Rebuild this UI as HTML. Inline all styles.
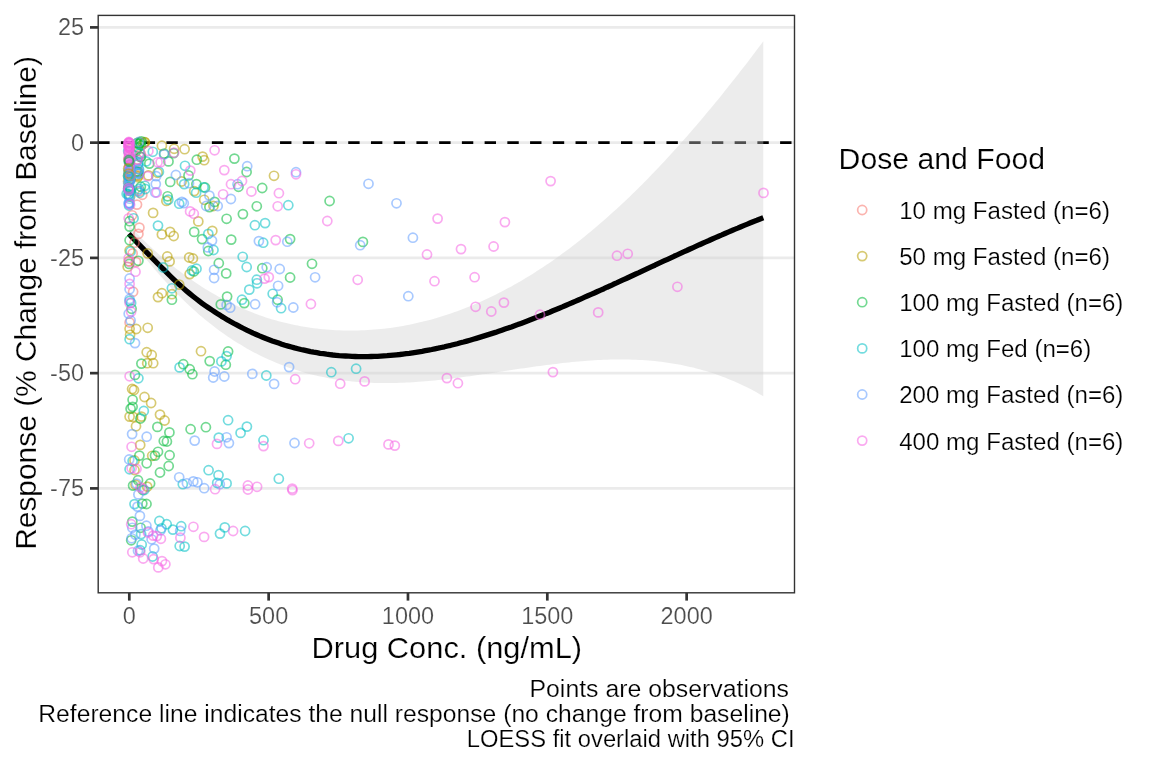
<!DOCTYPE html>
<html><head><meta charset="utf-8"><style>html,body{margin:0;padding:0;background:#fff;width:1152px;height:768px;overflow:hidden}</style></head><body>
<svg width="1152" height="768" viewBox="0 0 1152 768" style="display:block;will-change:transform">
<rect x="0" y="0" width="1152" height="768" fill="#FFFFFF"/>
<line x1="98.2" y1="27.4" x2="794.5" y2="27.4" stroke="#EBEBEB" stroke-width="2.7"/>
<line x1="98.2" y1="142.65" x2="794.5" y2="142.65" stroke="#EBEBEB" stroke-width="2.7"/>
<line x1="98.2" y1="257.9" x2="794.5" y2="257.9" stroke="#EBEBEB" stroke-width="2.7"/>
<line x1="98.2" y1="373.15" x2="794.5" y2="373.15" stroke="#EBEBEB" stroke-width="2.7"/>
<line x1="98.2" y1="488.4" x2="794.5" y2="488.4" stroke="#EBEBEB" stroke-width="2.7"/>
<line x1="98.2" y1="142.65" x2="794.5" y2="142.65" stroke="#000" stroke-width="2.9" stroke-dasharray="11.4 11.33"/>
<path d="M128.8,225.2 L132.0,228.5 L135.2,231.8 L138.4,235.0 L141.6,238.2 L144.7,241.3 L147.9,244.3 L151.1,247.3 L154.3,250.2 L157.5,253.0 L160.7,255.8 L163.9,258.5 L167.1,261.2 L170.2,263.8 L173.4,266.4 L176.6,268.9 L179.8,271.3 L183.0,273.7 L186.2,276.0 L189.4,278.3 L192.6,280.5 L195.8,282.7 L198.9,284.8 L202.1,286.9 L205.3,288.9 L208.5,290.8 L211.7,292.7 L214.9,294.6 L218.1,296.4 L221.3,298.1 L224.5,299.8 L227.6,301.4 L230.8,303.0 L234.0,304.6 L237.2,306.1 L240.4,307.5 L243.6,308.9 L246.8,310.3 L250.0,311.6 L253.1,312.8 L256.3,314.0 L259.5,315.2 L262.7,316.3 L265.9,317.4 L269.1,318.4 L272.3,319.4 L275.5,320.3 L278.7,321.2 L281.8,322.0 L285.0,322.8 L288.2,323.6 L291.4,324.3 L294.6,325.0 L297.8,325.6 L301.0,326.2 L304.2,326.8 L307.4,327.3 L310.5,327.8 L313.7,328.2 L316.9,328.6 L320.1,329.0 L323.3,329.3 L326.5,329.6 L329.7,329.8 L332.9,330.0 L336.0,330.2 L339.2,330.3 L342.4,330.4 L345.6,330.5 L348.8,330.5 L352.0,330.5 L355.2,330.5 L358.4,330.4 L361.6,330.3 L364.7,330.2 L367.9,330.0 L371.1,329.8 L374.3,329.6 L377.5,329.3 L380.7,329.0 L383.9,328.7 L387.1,328.3 L390.3,327.9 L393.4,327.4 L396.6,326.9 L399.8,326.4 L403.0,325.9 L406.2,325.3 L409.4,324.7 L412.6,324.0 L415.8,323.3 L418.9,322.6 L422.1,321.8 L425.3,321.0 L428.5,320.2 L431.7,319.4 L434.9,318.5 L438.1,317.5 L441.3,316.6 L444.5,315.6 L447.6,314.5 L450.8,313.4 L454.0,312.3 L457.2,311.2 L460.4,310.0 L463.6,308.8 L466.8,307.6 L470.0,306.3 L473.2,305.0 L476.3,303.6 L479.5,302.2 L482.7,300.8 L485.9,299.3 L489.1,297.8 L492.3,296.3 L495.5,294.7 L498.7,293.1 L501.8,291.5 L505.0,289.8 L508.2,288.1 L511.4,286.4 L514.6,284.6 L517.8,282.8 L521.0,280.9 L524.2,279.0 L527.4,277.1 L530.5,275.2 L533.7,273.2 L536.9,271.1 L540.1,269.1 L543.3,267.0 L546.5,264.8 L549.7,262.7 L552.9,260.4 L556.1,258.2 L559.2,255.9 L562.4,253.6 L565.6,251.3 L568.8,248.9 L572.0,246.4 L575.2,244.0 L578.4,241.5 L581.6,239.0 L584.7,236.4 L587.9,233.8 L591.1,231.2 L594.3,228.5 L597.5,225.8 L600.7,223.1 L603.9,220.3 L607.1,217.5 L610.3,214.6 L613.4,211.8 L616.6,208.9 L619.8,205.9 L623.0,202.9 L626.2,199.9 L629.4,196.9 L632.6,193.8 L635.8,190.7 L639.0,187.6 L642.1,184.4 L645.3,181.2 L648.5,177.9 L651.7,174.6 L654.9,171.3 L658.1,168.0 L661.3,164.6 L664.5,161.2 L667.6,157.8 L670.8,154.3 L674.0,150.8 L677.2,147.3 L680.4,143.7 L683.6,140.1 L686.8,136.5 L690.0,132.8 L693.2,129.1 L696.3,125.4 L699.5,121.7 L702.7,117.9 L705.9,114.1 L709.1,110.3 L712.3,106.4 L715.5,102.6 L718.7,98.7 L721.9,94.7 L725.0,90.8 L728.2,86.8 L731.4,82.8 L734.6,78.7 L737.8,74.7 L741.0,70.6 L744.2,66.5 L747.4,62.4 L750.5,58.2 L753.7,54.0 L756.9,49.8 L760.1,45.6 L763.3,41.3 L763.3,396.2 L760.1,394.4 L756.9,392.6 L753.7,390.8 L750.5,389.1 L747.4,387.5 L744.2,385.9 L741.0,384.4 L737.8,383.0 L734.6,381.6 L731.4,380.2 L728.2,378.9 L725.0,377.6 L721.9,376.4 L718.7,375.3 L715.5,374.1 L712.3,373.1 L709.1,372.1 L705.9,371.1 L702.7,370.2 L699.5,369.3 L696.3,368.4 L693.2,367.6 L690.0,366.9 L686.8,366.2 L683.6,365.5 L680.4,364.8 L677.2,364.3 L674.0,363.7 L670.8,363.2 L667.6,362.7 L664.5,362.3 L661.3,361.8 L658.1,361.5 L654.9,361.1 L651.7,360.8 L648.5,360.6 L645.3,360.3 L642.1,360.1 L639.0,359.9 L635.8,359.8 L632.6,359.7 L629.4,359.6 L626.2,359.5 L623.0,359.5 L619.8,359.5 L616.6,359.5 L613.4,359.6 L610.3,359.6 L607.1,359.7 L603.9,359.8 L600.7,360.0 L597.5,360.1 L594.3,360.3 L591.1,360.5 L587.9,360.7 L584.7,361.0 L581.6,361.2 L578.4,361.5 L575.2,361.8 L572.0,362.1 L568.8,362.4 L565.6,362.8 L562.4,363.1 L559.2,363.5 L556.1,363.9 L552.9,364.3 L549.7,364.7 L546.5,365.1 L543.3,365.5 L540.1,365.9 L536.9,366.3 L533.7,366.8 L530.5,367.2 L527.4,367.7 L524.2,368.2 L521.0,368.6 L517.8,369.1 L514.6,369.6 L511.4,370.1 L508.2,370.5 L505.0,371.0 L501.8,371.5 L498.7,372.0 L495.5,372.5 L492.3,372.9 L489.1,373.4 L485.9,373.9 L482.7,374.3 L479.5,374.8 L476.3,375.3 L473.2,375.7 L470.0,376.2 L466.8,376.6 L463.6,377.0 L460.4,377.5 L457.2,377.9 L454.0,378.3 L450.8,378.7 L447.6,379.0 L444.5,379.4 L441.3,379.8 L438.1,380.1 L434.9,380.4 L431.7,380.7 L428.5,381.0 L425.3,381.3 L422.1,381.6 L418.9,381.8 L415.8,382.0 L412.6,382.2 L409.4,382.4 L406.2,382.6 L403.0,382.7 L399.8,382.8 L396.6,382.9 L393.4,383.0 L390.3,383.0 L387.1,383.1 L383.9,383.1 L380.7,383.0 L377.5,383.0 L374.3,382.9 L371.1,382.8 L367.9,382.6 L364.7,382.5 L361.6,382.3 L358.4,382.0 L355.2,381.8 L352.0,381.5 L348.8,381.1 L345.6,380.7 L342.4,380.3 L339.2,379.9 L336.0,379.4 L332.9,378.9 L329.7,378.4 L326.5,377.8 L323.3,377.1 L320.1,376.5 L316.9,375.8 L313.7,375.0 L310.5,374.2 L307.4,373.4 L304.2,372.5 L301.0,371.6 L297.8,370.6 L294.6,369.6 L291.4,368.5 L288.2,367.4 L285.0,366.3 L281.8,365.1 L278.7,363.8 L275.5,362.5 L272.3,361.1 L269.1,359.7 L265.9,358.3 L262.7,356.8 L259.5,355.2 L256.3,353.6 L253.1,351.9 L250.0,350.2 L246.8,348.4 L243.6,346.5 L240.4,344.6 L237.2,342.7 L234.0,340.7 L230.8,338.6 L227.6,336.5 L224.5,334.3 L221.3,332.0 L218.1,329.7 L214.9,327.3 L211.7,324.8 L208.5,322.3 L205.3,319.7 L202.1,317.1 L198.9,314.4 L195.8,311.6 L192.6,308.7 L189.4,305.8 L186.2,302.8 L183.0,299.7 L179.8,296.6 L176.6,293.4 L173.4,290.1 L170.2,286.8 L167.1,283.3 L163.9,279.8 L160.7,276.3 L157.5,272.6 L154.3,268.9 L151.1,265.1 L147.9,261.2 L144.7,257.2 L141.6,253.2 L138.4,249.1 L135.2,244.9 L132.0,240.6 L128.8,236.2 Z" fill="rgb(205,205,205)" fill-opacity="0.39"/>
<path d="M128.8,233.8 L132.0,237.2 L135.2,240.5 L138.4,243.8 L141.6,247.1 L144.7,250.4 L147.9,253.6 L151.1,256.9 L154.3,260.1 L157.5,263.3 L160.7,266.5 L163.9,269.7 L167.1,272.9 L170.2,276.0 L173.4,279.1 L176.6,282.1 L179.8,285.0 L183.0,287.9 L186.2,290.7 L189.4,293.4 L192.6,296.0 L195.8,298.5 L198.9,300.9 L202.1,303.3 L205.3,305.6 L208.5,307.8 L211.7,309.9 L214.9,312.0 L218.1,314.1 L221.3,316.1 L224.5,318.0 L227.6,319.9 L230.8,321.7 L234.0,323.5 L237.2,325.2 L240.4,326.9 L243.6,328.5 L246.8,330.1 L250.0,331.6 L253.1,333.1 L256.3,334.5 L259.5,335.9 L262.7,337.2 L265.9,338.5 L269.1,339.7 L272.3,340.9 L275.5,342.0 L278.7,343.1 L281.8,344.2 L285.0,345.2 L288.2,346.1 L291.4,347.0 L294.6,347.9 L297.8,348.7 L301.0,349.5 L304.2,350.2 L307.4,350.9 L310.5,351.6 L313.7,352.2 L316.9,352.7 L320.1,353.3 L323.3,353.7 L326.5,354.2 L329.7,354.6 L332.9,355.0 L336.0,355.3 L339.2,355.6 L342.4,355.8 L345.6,356.0 L348.8,356.2 L352.0,356.4 L355.2,356.5 L358.4,356.6 L361.6,356.6 L364.7,356.6 L367.9,356.6 L371.1,356.5 L374.3,356.4 L377.5,356.3 L380.7,356.1 L383.9,355.9 L387.1,355.7 L390.3,355.4 L393.4,355.1 L396.6,354.8 L399.8,354.5 L403.0,354.1 L406.2,353.7 L409.4,353.3 L412.6,352.8 L415.8,352.3 L418.9,351.8 L422.1,351.3 L425.3,350.7 L428.5,350.1 L431.7,349.5 L434.9,348.8 L438.1,348.2 L441.3,347.5 L444.5,346.8 L447.6,346.0 L450.8,345.3 L454.0,344.5 L457.2,343.7 L460.4,342.8 L463.6,342.0 L466.8,341.1 L470.0,340.2 L473.2,339.3 L476.3,338.4 L479.5,337.4 L482.7,336.4 L485.9,335.4 L489.1,334.4 L492.3,333.4 L495.5,332.4 L498.7,331.3 L501.8,330.2 L505.0,329.1 L508.2,328.0 L511.4,326.9 L514.6,325.7 L517.8,324.6 L521.0,323.4 L524.2,322.2 L527.4,321.0 L530.5,319.8 L533.7,318.5 L536.9,317.3 L540.1,316.0 L543.3,314.7 L546.5,313.4 L549.7,312.2 L552.9,310.8 L556.1,309.5 L559.2,308.2 L562.4,306.9 L565.6,305.5 L568.8,304.1 L572.0,302.8 L575.2,301.4 L578.4,300.0 L581.6,298.6 L584.7,297.2 L587.9,295.8 L591.1,294.4 L594.3,293.0 L597.5,291.5 L600.7,290.1 L603.9,288.7 L607.1,287.2 L610.3,285.8 L613.4,284.3 L616.6,282.9 L619.8,281.4 L623.0,279.9 L626.2,278.5 L629.4,277.0 L632.6,275.5 L635.8,274.0 L639.0,272.6 L642.1,271.1 L645.3,269.6 L648.5,268.1 L651.7,266.6 L654.9,265.2 L658.1,263.7 L661.3,262.2 L664.5,260.7 L667.6,259.3 L670.8,257.8 L674.0,256.3 L677.2,254.9 L680.4,253.4 L683.6,251.9 L686.8,250.5 L690.0,249.0 L693.2,247.6 L696.3,246.2 L699.5,244.7 L702.7,243.3 L705.9,241.9 L709.1,240.5 L712.3,239.0 L715.5,237.6 L718.7,236.2 L721.9,234.9 L725.0,233.5 L728.2,232.1 L731.4,230.8 L734.6,229.4 L737.8,228.1 L741.0,226.7 L744.2,225.4 L747.4,224.1 L750.5,222.8 L753.7,221.5 L756.9,220.3 L760.1,219.0 L763.3,217.8" fill="none" stroke="#000" stroke-width="5.3" stroke-linejoin="round"/>
<g fill="none" stroke-width="1.7" stroke-opacity="0.55">
<circle cx="139.7" cy="191.1" r="4.55" stroke="#F8766D"/>
<circle cx="137.0" cy="204.6" r="4.55" stroke="#F8766D"/>
<circle cx="142.3" cy="194.8" r="4.55" stroke="#F8766D"/>
<circle cx="132.1" cy="215.3" r="4.55" stroke="#F8766D"/>
<circle cx="139.4" cy="227.6" r="4.55" stroke="#F8766D"/>
<circle cx="138.4" cy="233.9" r="4.55" stroke="#F8766D"/>
<circle cx="134.5" cy="242.7" r="4.55" stroke="#F8766D"/>
<circle cx="132.6" cy="253.4" r="4.55" stroke="#F8766D"/>
<circle cx="136.0" cy="261.9" r="4.55" stroke="#F8766D"/>
<circle cx="133.1" cy="291.7" r="4.55" stroke="#F8766D"/>
<circle cx="129.6" cy="322.5" r="4.55" stroke="#F8766D"/>
<circle cx="129.4" cy="158.8" r="4.55" stroke="#F8766D"/>
<circle cx="128.2" cy="188.4" r="4.55" stroke="#F8766D"/>
<circle cx="130.4" cy="148.6" r="4.55" stroke="#F8766D"/>
<circle cx="129.9" cy="165.3" r="4.55" stroke="#F8766D"/>
<circle cx="128.4" cy="159.3" r="4.55" stroke="#F8766D"/>
<circle cx="129.8" cy="189.4" r="4.55" stroke="#F8766D"/>
<circle cx="136.3" cy="175.5" r="4.55" stroke="#F8766D"/>
<circle cx="140.8" cy="153.8" r="4.55" stroke="#F8766D"/>
<circle cx="138.3" cy="171.2" r="4.55" stroke="#F8766D"/>
<circle cx="137.6" cy="159.6" r="4.55" stroke="#F8766D"/>
<circle cx="202.6" cy="156.6" r="4.55" stroke="#B79F00"/>
<circle cx="204.2" cy="160.2" r="4.55" stroke="#B79F00"/>
<circle cx="274.0" cy="175.8" r="4.55" stroke="#B79F00"/>
<circle cx="204.2" cy="199.8" r="4.55" stroke="#B79F00"/>
<circle cx="213.5" cy="206.0" r="4.55" stroke="#B79F00"/>
<circle cx="212.3" cy="230.9" r="4.55" stroke="#B79F00"/>
<circle cx="201.0" cy="351.2" r="4.55" stroke="#B79F00"/>
<circle cx="161.9" cy="145.7" r="4.55" stroke="#B79F00"/>
<circle cx="174.1" cy="148.8" r="4.55" stroke="#B79F00"/>
<circle cx="184.6" cy="149.2" r="4.55" stroke="#B79F00"/>
<circle cx="144.9" cy="142.2" r="4.55" stroke="#B79F00"/>
<circle cx="157.6" cy="172.8" r="4.55" stroke="#B79F00"/>
<circle cx="148.4" cy="175.4" r="4.55" stroke="#B79F00"/>
<circle cx="181.6" cy="181.5" r="4.55" stroke="#B79F00"/>
<circle cx="194.2" cy="191.1" r="4.55" stroke="#B79F00"/>
<circle cx="153.1" cy="212.9" r="4.55" stroke="#B79F00"/>
<circle cx="161.9" cy="234.4" r="4.55" stroke="#B79F00"/>
<circle cx="147.7" cy="253.4" r="4.55" stroke="#B79F00"/>
<circle cx="129.6" cy="250.5" r="4.55" stroke="#B79F00"/>
<circle cx="128.7" cy="261.2" r="4.55" stroke="#B79F00"/>
<circle cx="127.7" cy="266.8" r="4.55" stroke="#B79F00"/>
<circle cx="129.6" cy="328.8" r="4.55" stroke="#B79F00"/>
<circle cx="136.2" cy="329.0" r="4.55" stroke="#B79F00"/>
<circle cx="147.7" cy="327.8" r="4.55" stroke="#B79F00"/>
<circle cx="158.0" cy="297.1" r="4.55" stroke="#B79F00"/>
<circle cx="161.9" cy="293.2" r="4.55" stroke="#B79F00"/>
<circle cx="130.1" cy="334.8" r="4.55" stroke="#B79F00"/>
<circle cx="146.7" cy="352.2" r="4.55" stroke="#B79F00"/>
<circle cx="151.7" cy="355.0" r="4.55" stroke="#B79F00"/>
<circle cx="147.2" cy="363.2" r="4.55" stroke="#B79F00"/>
<circle cx="153.2" cy="363.2" r="4.55" stroke="#B79F00"/>
<circle cx="132.1" cy="389.0" r="4.55" stroke="#B79F00"/>
<circle cx="134.0" cy="390.0" r="4.55" stroke="#B79F00"/>
<circle cx="144.5" cy="397.0" r="4.55" stroke="#B79F00"/>
<circle cx="151.1" cy="403.0" r="4.55" stroke="#B79F00"/>
<circle cx="129.6" cy="416.6" r="4.55" stroke="#B79F00"/>
<circle cx="133.1" cy="417.0" r="4.55" stroke="#B79F00"/>
<circle cx="141.4" cy="416.6" r="4.55" stroke="#B79F00"/>
<circle cx="136.0" cy="426.3" r="4.55" stroke="#B79F00"/>
<circle cx="160.0" cy="414.6" r="4.55" stroke="#B79F00"/>
<circle cx="164.6" cy="420.5" r="4.55" stroke="#B79F00"/>
<circle cx="140.2" cy="444.9" r="4.55" stroke="#B79F00"/>
<circle cx="134.5" cy="460.5" r="4.55" stroke="#B79F00"/>
<circle cx="152.2" cy="455.8" r="4.55" stroke="#B79F00"/>
<circle cx="134.5" cy="470.0" r="4.55" stroke="#B79F00"/>
<circle cx="135.5" cy="484.6" r="4.55" stroke="#B79F00"/>
<circle cx="147.2" cy="486.6" r="4.55" stroke="#B79F00"/>
<circle cx="166.4" cy="200.9" r="4.55" stroke="#B79F00"/>
<circle cx="198.3" cy="221.4" r="4.55" stroke="#B79F00"/>
<circle cx="170.1" cy="231.9" r="4.55" stroke="#B79F00"/>
<circle cx="173.7" cy="236.0" r="4.55" stroke="#B79F00"/>
<circle cx="167.3" cy="256.5" r="4.55" stroke="#B79F00"/>
<circle cx="189.2" cy="257.5" r="4.55" stroke="#B79F00"/>
<circle cx="192.9" cy="258.5" r="4.55" stroke="#B79F00"/>
<circle cx="169.6" cy="261.4" r="4.55" stroke="#B79F00"/>
<circle cx="189.7" cy="274.1" r="4.55" stroke="#B79F00"/>
<circle cx="179.2" cy="284.6" r="4.55" stroke="#B79F00"/>
<circle cx="171.9" cy="294.2" r="4.55" stroke="#B79F00"/>
<circle cx="128.1" cy="176.0" r="4.55" stroke="#B79F00"/>
<circle cx="128.1" cy="181.4" r="4.55" stroke="#B79F00"/>
<circle cx="128.8" cy="189.8" r="4.55" stroke="#B79F00"/>
<circle cx="130.4" cy="170.3" r="4.55" stroke="#B79F00"/>
<circle cx="138.3" cy="175.6" r="4.55" stroke="#B79F00"/>
<circle cx="137.8" cy="177.1" r="4.55" stroke="#B79F00"/>
<circle cx="139.7" cy="142.1" r="4.55" stroke="#B79F00"/>
<circle cx="143.4" cy="143.6" r="4.55" stroke="#B79F00"/>
<circle cx="144.7" cy="142.4" r="4.55" stroke="#B79F00"/>
<circle cx="130.2" cy="196.3" r="4.55" stroke="#B79F00"/>
<circle cx="329.6" cy="201.0" r="4.55" stroke="#00BA38"/>
<circle cx="362.9" cy="241.9" r="4.55" stroke="#00BA38"/>
<circle cx="234.4" cy="158.6" r="4.55" stroke="#00BA38"/>
<circle cx="246.6" cy="172.0" r="4.55" stroke="#00BA38"/>
<circle cx="238.5" cy="186.8" r="4.55" stroke="#00BA38"/>
<circle cx="262.2" cy="188.0" r="4.55" stroke="#00BA38"/>
<circle cx="205.0" cy="187.5" r="4.55" stroke="#00BA38"/>
<circle cx="214.6" cy="201.9" r="4.55" stroke="#00BA38"/>
<circle cx="209.4" cy="207.1" r="4.55" stroke="#00BA38"/>
<circle cx="256.8" cy="206.3" r="4.55" stroke="#00BA38"/>
<circle cx="242.9" cy="214.1" r="4.55" stroke="#00BA38"/>
<circle cx="226.6" cy="218.8" r="4.55" stroke="#00BA38"/>
<circle cx="202.1" cy="239.1" r="4.55" stroke="#00BA38"/>
<circle cx="231.2" cy="239.6" r="4.55" stroke="#00BA38"/>
<circle cx="290.1" cy="239.1" r="4.55" stroke="#00BA38"/>
<circle cx="208.3" cy="251.0" r="4.55" stroke="#00BA38"/>
<circle cx="218.8" cy="263.2" r="4.55" stroke="#00BA38"/>
<circle cx="226.2" cy="273.4" r="4.55" stroke="#00BA38"/>
<circle cx="262.3" cy="268.2" r="4.55" stroke="#00BA38"/>
<circle cx="290.1" cy="277.5" r="4.55" stroke="#00BA38"/>
<circle cx="312.0" cy="263.8" r="4.55" stroke="#00BA38"/>
<circle cx="227.1" cy="296.6" r="4.55" stroke="#00BA38"/>
<circle cx="220.8" cy="304.4" r="4.55" stroke="#00BA38"/>
<circle cx="244.3" cy="303.1" r="4.55" stroke="#00BA38"/>
<circle cx="277.6" cy="299.7" r="4.55" stroke="#00BA38"/>
<circle cx="228.1" cy="351.5" r="4.55" stroke="#00BA38"/>
<circle cx="209.7" cy="361.1" r="4.55" stroke="#00BA38"/>
<circle cx="225.8" cy="364.7" r="4.55" stroke="#00BA38"/>
<circle cx="205.9" cy="427.2" r="4.55" stroke="#00BA38"/>
<circle cx="132.3" cy="521.6" r="4.55" stroke="#00BA38"/>
<circle cx="140.6" cy="527.8" r="4.55" stroke="#00BA38"/>
<circle cx="131.2" cy="540.3" r="4.55" stroke="#00BA38"/>
<circle cx="141.4" cy="141.3" r="4.55" stroke="#00BA38"/>
<circle cx="137.9" cy="147.5" r="4.55" stroke="#00BA38"/>
<circle cx="164.1" cy="153.6" r="4.55" stroke="#00BA38"/>
<circle cx="173.7" cy="153.1" r="4.55" stroke="#00BA38"/>
<circle cx="168.5" cy="161.4" r="4.55" stroke="#00BA38"/>
<circle cx="149.3" cy="163.6" r="4.55" stroke="#00BA38"/>
<circle cx="196.8" cy="159.7" r="4.55" stroke="#00BA38"/>
<circle cx="188.5" cy="175.4" r="4.55" stroke="#00BA38"/>
<circle cx="170.2" cy="181.9" r="4.55" stroke="#00BA38"/>
<circle cx="196.4" cy="184.1" r="4.55" stroke="#00BA38"/>
<circle cx="167.6" cy="196.3" r="4.55" stroke="#00BA38"/>
<circle cx="129.6" cy="221.2" r="4.55" stroke="#00BA38"/>
<circle cx="129.6" cy="226.6" r="4.55" stroke="#00BA38"/>
<circle cx="129.6" cy="240.2" r="4.55" stroke="#00BA38"/>
<circle cx="138.4" cy="260.8" r="4.55" stroke="#00BA38"/>
<circle cx="129.2" cy="263.9" r="4.55" stroke="#00BA38"/>
<circle cx="131.6" cy="308.8" r="4.55" stroke="#00BA38"/>
<circle cx="141.4" cy="363.6" r="4.55" stroke="#00BA38"/>
<circle cx="135.0" cy="374.9" r="4.55" stroke="#00BA38"/>
<circle cx="132.6" cy="399.8" r="4.55" stroke="#00BA38"/>
<circle cx="130.6" cy="408.7" r="4.55" stroke="#00BA38"/>
<circle cx="132.6" cy="406.8" r="4.55" stroke="#00BA38"/>
<circle cx="140.4" cy="418.5" r="4.55" stroke="#00BA38"/>
<circle cx="157.4" cy="426.9" r="4.55" stroke="#00BA38"/>
<circle cx="139.4" cy="455.6" r="4.55" stroke="#00BA38"/>
<circle cx="146.7" cy="463.3" r="4.55" stroke="#00BA38"/>
<circle cx="155.0" cy="455.6" r="4.55" stroke="#00BA38"/>
<circle cx="158.0" cy="451.8" r="4.55" stroke="#00BA38"/>
<circle cx="163.8" cy="441.0" r="4.55" stroke="#00BA38"/>
<circle cx="160.0" cy="472.5" r="4.55" stroke="#00BA38"/>
<circle cx="133.1" cy="485.6" r="4.55" stroke="#00BA38"/>
<circle cx="138.0" cy="480.2" r="4.55" stroke="#00BA38"/>
<circle cx="142.8" cy="490.0" r="4.55" stroke="#00BA38"/>
<circle cx="150.1" cy="483.5" r="4.55" stroke="#00BA38"/>
<circle cx="142.3" cy="503.6" r="4.55" stroke="#00BA38"/>
<circle cx="146.5" cy="504.0" r="4.55" stroke="#00BA38"/>
<circle cx="194.2" cy="231.9" r="4.55" stroke="#00BA38"/>
<circle cx="193.8" cy="271.4" r="4.55" stroke="#00BA38"/>
<circle cx="171.9" cy="299.7" r="4.55" stroke="#00BA38"/>
<circle cx="183.3" cy="364.2" r="4.55" stroke="#00BA38"/>
<circle cx="189.7" cy="369.2" r="4.55" stroke="#00BA38"/>
<circle cx="192.4" cy="374.2" r="4.55" stroke="#00BA38"/>
<circle cx="169.4" cy="432.4" r="4.55" stroke="#00BA38"/>
<circle cx="166.9" cy="441.5" r="4.55" stroke="#00BA38"/>
<circle cx="190.6" cy="429.2" r="4.55" stroke="#00BA38"/>
<circle cx="169.6" cy="455.2" r="4.55" stroke="#00BA38"/>
<circle cx="168.7" cy="466.0" r="4.55" stroke="#00BA38"/>
<circle cx="130.2" cy="188.5" r="4.55" stroke="#00BA38"/>
<circle cx="130.4" cy="178.9" r="4.55" stroke="#00BA38"/>
<circle cx="128.4" cy="188.8" r="4.55" stroke="#00BA38"/>
<circle cx="130.3" cy="191.0" r="4.55" stroke="#00BA38"/>
<circle cx="129.4" cy="181.1" r="4.55" stroke="#00BA38"/>
<circle cx="128.5" cy="187.2" r="4.55" stroke="#00BA38"/>
<circle cx="141.0" cy="156.8" r="4.55" stroke="#00BA38"/>
<circle cx="136.4" cy="171.6" r="4.55" stroke="#00BA38"/>
<circle cx="136.2" cy="151.1" r="4.55" stroke="#00BA38"/>
<circle cx="138.0" cy="172.1" r="4.55" stroke="#00BA38"/>
<circle cx="136.8" cy="143.2" r="4.55" stroke="#00BA38"/>
<circle cx="140.3" cy="157.0" r="4.55" stroke="#00BA38"/>
<circle cx="140.8" cy="186.7" r="4.55" stroke="#00BA38"/>
<circle cx="141.1" cy="145.5" r="4.55" stroke="#00BA38"/>
<circle cx="140.3" cy="142.9" r="4.55" stroke="#00BA38"/>
<circle cx="139.0" cy="144.1" r="4.55" stroke="#00BA38"/>
<circle cx="266.3" cy="375.5" r="4.55" stroke="#00BFC4"/>
<circle cx="331.3" cy="372.2" r="4.55" stroke="#00BFC4"/>
<circle cx="356.1" cy="368.7" r="4.55" stroke="#00BFC4"/>
<circle cx="281.1" cy="308.2" r="4.55" stroke="#00BFC4"/>
<circle cx="246.9" cy="426.6" r="4.55" stroke="#00BFC4"/>
<circle cx="240.6" cy="432.9" r="4.55" stroke="#00BFC4"/>
<circle cx="263.5" cy="440.2" r="4.55" stroke="#00BFC4"/>
<circle cx="348.6" cy="438.3" r="4.55" stroke="#00BFC4"/>
<circle cx="278.8" cy="478.7" r="4.55" stroke="#00BFC4"/>
<circle cx="203.6" cy="187.3" r="4.55" stroke="#00BFC4"/>
<circle cx="288.3" cy="205.2" r="4.55" stroke="#00BFC4"/>
<circle cx="254.9" cy="225.2" r="4.55" stroke="#00BFC4"/>
<circle cx="265.1" cy="223.1" r="4.55" stroke="#00BFC4"/>
<circle cx="208.3" cy="233.9" r="4.55" stroke="#00BFC4"/>
<circle cx="263.2" cy="242.7" r="4.55" stroke="#00BFC4"/>
<circle cx="213.5" cy="250.0" r="4.55" stroke="#00BFC4"/>
<circle cx="242.7" cy="256.8" r="4.55" stroke="#00BFC4"/>
<circle cx="246.7" cy="267.0" r="4.55" stroke="#00BFC4"/>
<circle cx="256.8" cy="279.7" r="4.55" stroke="#00BFC4"/>
<circle cx="257.1" cy="283.3" r="4.55" stroke="#00BFC4"/>
<circle cx="249.3" cy="289.6" r="4.55" stroke="#00BFC4"/>
<circle cx="242.0" cy="299.7" r="4.55" stroke="#00BFC4"/>
<circle cx="272.7" cy="293.8" r="4.55" stroke="#00BFC4"/>
<circle cx="226.6" cy="356.1" r="4.55" stroke="#00BFC4"/>
<circle cx="221.4" cy="361.4" r="4.55" stroke="#00BFC4"/>
<circle cx="228.1" cy="420.2" r="4.55" stroke="#00BFC4"/>
<circle cx="218.8" cy="437.6" r="4.55" stroke="#00BFC4"/>
<circle cx="208.6" cy="470.2" r="4.55" stroke="#00BFC4"/>
<circle cx="218.5" cy="475.1" r="4.55" stroke="#00BFC4"/>
<circle cx="217.2" cy="482.9" r="4.55" stroke="#00BFC4"/>
<circle cx="226.6" cy="483.4" r="4.55" stroke="#00BFC4"/>
<circle cx="224.8" cy="527.4" r="4.55" stroke="#00BFC4"/>
<circle cx="220.0" cy="533.6" r="4.55" stroke="#00BFC4"/>
<circle cx="245.1" cy="531.0" r="4.55" stroke="#00BFC4"/>
<circle cx="159.4" cy="521.0" r="4.55" stroke="#00BFC4"/>
<circle cx="166.7" cy="524.2" r="4.55" stroke="#00BFC4"/>
<circle cx="161.5" cy="528.3" r="4.55" stroke="#00BFC4"/>
<circle cx="172.9" cy="529.6" r="4.55" stroke="#00BFC4"/>
<circle cx="181.2" cy="526.2" r="4.55" stroke="#00BFC4"/>
<circle cx="179.7" cy="546.0" r="4.55" stroke="#00BFC4"/>
<circle cx="184.6" cy="546.6" r="4.55" stroke="#00BFC4"/>
<circle cx="141.1" cy="534.1" r="4.55" stroke="#00BFC4"/>
<circle cx="141.7" cy="544.5" r="4.55" stroke="#00BFC4"/>
<circle cx="140.1" cy="550.2" r="4.55" stroke="#00BFC4"/>
<circle cx="152.6" cy="556.5" r="4.55" stroke="#00BFC4"/>
<circle cx="152.8" cy="151.8" r="4.55" stroke="#00BFC4"/>
<circle cx="146.2" cy="161.4" r="4.55" stroke="#00BFC4"/>
<circle cx="185.0" cy="165.8" r="4.55" stroke="#00BFC4"/>
<circle cx="158.9" cy="171.9" r="4.55" stroke="#00BFC4"/>
<circle cx="184.2" cy="184.1" r="4.55" stroke="#00BFC4"/>
<circle cx="144.9" cy="185.8" r="4.55" stroke="#00BFC4"/>
<circle cx="139.7" cy="192.8" r="4.55" stroke="#00BFC4"/>
<circle cx="145.3" cy="189.0" r="4.55" stroke="#00BFC4"/>
<circle cx="158.0" cy="225.6" r="4.55" stroke="#00BFC4"/>
<circle cx="133.6" cy="218.3" r="4.55" stroke="#00BFC4"/>
<circle cx="130.6" cy="251.5" r="4.55" stroke="#00BFC4"/>
<circle cx="126.7" cy="193.9" r="4.55" stroke="#00BFC4"/>
<circle cx="131.1" cy="302.9" r="4.55" stroke="#00BFC4"/>
<circle cx="129.6" cy="301.0" r="4.55" stroke="#00BFC4"/>
<circle cx="163.2" cy="267.5" r="4.55" stroke="#00BFC4"/>
<circle cx="129.6" cy="339.2" r="4.55" stroke="#00BFC4"/>
<circle cx="138.4" cy="378.3" r="4.55" stroke="#00BFC4"/>
<circle cx="143.8" cy="411.0" r="4.55" stroke="#00BFC4"/>
<circle cx="132.6" cy="461.0" r="4.55" stroke="#00BFC4"/>
<circle cx="129.6" cy="469.3" r="4.55" stroke="#00BFC4"/>
<circle cx="144.3" cy="490.0" r="4.55" stroke="#00BFC4"/>
<circle cx="134.5" cy="504.1" r="4.55" stroke="#00BFC4"/>
<circle cx="168.3" cy="199.6" r="4.55" stroke="#00BFC4"/>
<circle cx="179.2" cy="203.7" r="4.55" stroke="#00BFC4"/>
<circle cx="196.1" cy="192.7" r="4.55" stroke="#00BFC4"/>
<circle cx="192.0" cy="270.5" r="4.55" stroke="#00BFC4"/>
<circle cx="196.5" cy="268.7" r="4.55" stroke="#00BFC4"/>
<circle cx="171.9" cy="288.3" r="4.55" stroke="#00BFC4"/>
<circle cx="179.6" cy="367.4" r="4.55" stroke="#00BFC4"/>
<circle cx="182.8" cy="484.2" r="4.55" stroke="#00BFC4"/>
<circle cx="130.2" cy="189.7" r="4.55" stroke="#00BFC4"/>
<circle cx="128.2" cy="151.1" r="4.55" stroke="#00BFC4"/>
<circle cx="128.5" cy="194.2" r="4.55" stroke="#00BFC4"/>
<circle cx="129.0" cy="176.6" r="4.55" stroke="#00BFC4"/>
<circle cx="128.7" cy="170.4" r="4.55" stroke="#00BFC4"/>
<circle cx="128.9" cy="162.2" r="4.55" stroke="#00BFC4"/>
<circle cx="129.4" cy="174.4" r="4.55" stroke="#00BFC4"/>
<circle cx="130.2" cy="179.5" r="4.55" stroke="#00BFC4"/>
<circle cx="137.9" cy="164.5" r="4.55" stroke="#00BFC4"/>
<circle cx="138.6" cy="173.8" r="4.55" stroke="#00BFC4"/>
<circle cx="139.0" cy="169.5" r="4.55" stroke="#00BFC4"/>
<circle cx="139.1" cy="189.0" r="4.55" stroke="#00BFC4"/>
<circle cx="138.5" cy="163.0" r="4.55" stroke="#00BFC4"/>
<circle cx="139.6" cy="153.1" r="4.55" stroke="#00BFC4"/>
<circle cx="128.7" cy="194.6" r="4.55" stroke="#00BFC4"/>
<circle cx="129.0" cy="196.0" r="4.55" stroke="#00BFC4"/>
<circle cx="129.0" cy="205.5" r="4.55" stroke="#00BFC4"/>
<circle cx="252.3" cy="373.9" r="4.55" stroke="#619CFF"/>
<circle cx="274.1" cy="383.9" r="4.55" stroke="#619CFF"/>
<circle cx="289.1" cy="367.1" r="4.55" stroke="#619CFF"/>
<circle cx="293.3" cy="307.5" r="4.55" stroke="#619CFF"/>
<circle cx="255.1" cy="304.2" r="4.55" stroke="#619CFF"/>
<circle cx="294.5" cy="443.0" r="4.55" stroke="#619CFF"/>
<circle cx="368.5" cy="183.8" r="4.55" stroke="#619CFF"/>
<circle cx="396.5" cy="203.3" r="4.55" stroke="#619CFF"/>
<circle cx="360.2" cy="245.2" r="4.55" stroke="#619CFF"/>
<circle cx="412.9" cy="237.7" r="4.55" stroke="#619CFF"/>
<circle cx="408.3" cy="296.2" r="4.55" stroke="#619CFF"/>
<circle cx="247.2" cy="166.2" r="4.55" stroke="#619CFF"/>
<circle cx="296.0" cy="172.2" r="4.55" stroke="#619CFF"/>
<circle cx="237.5" cy="184.2" r="4.55" stroke="#619CFF"/>
<circle cx="230.9" cy="199.0" r="4.55" stroke="#619CFF"/>
<circle cx="209.4" cy="195.6" r="4.55" stroke="#619CFF"/>
<circle cx="217.7" cy="206.0" r="4.55" stroke="#619CFF"/>
<circle cx="206.2" cy="206.0" r="4.55" stroke="#619CFF"/>
<circle cx="212.0" cy="240.6" r="4.55" stroke="#619CFF"/>
<circle cx="258.9" cy="241.1" r="4.55" stroke="#619CFF"/>
<circle cx="287.3" cy="241.7" r="4.55" stroke="#619CFF"/>
<circle cx="207.8" cy="247.4" r="4.55" stroke="#619CFF"/>
<circle cx="214.1" cy="269.8" r="4.55" stroke="#619CFF"/>
<circle cx="214.1" cy="278.0" r="4.55" stroke="#619CFF"/>
<circle cx="266.7" cy="267.2" r="4.55" stroke="#619CFF"/>
<circle cx="279.7" cy="269.0" r="4.55" stroke="#619CFF"/>
<circle cx="315.1" cy="277.3" r="4.55" stroke="#619CFF"/>
<circle cx="278.1" cy="285.8" r="4.55" stroke="#619CFF"/>
<circle cx="226.6" cy="304.9" r="4.55" stroke="#619CFF"/>
<circle cx="230.2" cy="307.7" r="4.55" stroke="#619CFF"/>
<circle cx="277.1" cy="302.3" r="4.55" stroke="#619CFF"/>
<circle cx="214.6" cy="371.5" r="4.55" stroke="#619CFF"/>
<circle cx="213.2" cy="377.5" r="4.55" stroke="#619CFF"/>
<circle cx="224.3" cy="376.5" r="4.55" stroke="#619CFF"/>
<circle cx="226.6" cy="437.3" r="4.55" stroke="#619CFF"/>
<circle cx="228.9" cy="443.1" r="4.55" stroke="#619CFF"/>
<circle cx="219.8" cy="484.2" r="4.55" stroke="#619CFF"/>
<circle cx="204.2" cy="488.2" r="4.55" stroke="#619CFF"/>
<circle cx="132.3" cy="527.8" r="4.55" stroke="#619CFF"/>
<circle cx="146.4" cy="525.7" r="4.55" stroke="#619CFF"/>
<circle cx="160.4" cy="530.4" r="4.55" stroke="#619CFF"/>
<circle cx="180.2" cy="530.9" r="4.55" stroke="#619CFF"/>
<circle cx="135.4" cy="534.6" r="4.55" stroke="#619CFF"/>
<circle cx="148.4" cy="531.5" r="4.55" stroke="#619CFF"/>
<circle cx="151.6" cy="539.3" r="4.55" stroke="#619CFF"/>
<circle cx="154.2" cy="548.6" r="4.55" stroke="#619CFF"/>
<circle cx="138.0" cy="550.7" r="4.55" stroke="#619CFF"/>
<circle cx="164.1" cy="154.4" r="4.55" stroke="#619CFF"/>
<circle cx="175.9" cy="175.0" r="4.55" stroke="#619CFF"/>
<circle cx="156.2" cy="176.2" r="4.55" stroke="#619CFF"/>
<circle cx="189.0" cy="183.2" r="4.55" stroke="#619CFF"/>
<circle cx="155.8" cy="184.1" r="4.55" stroke="#619CFF"/>
<circle cx="155.3" cy="192.5" r="4.55" stroke="#619CFF"/>
<circle cx="129.2" cy="204.1" r="4.55" stroke="#619CFF"/>
<circle cx="129.6" cy="198.7" r="4.55" stroke="#619CFF"/>
<circle cx="129.6" cy="278.5" r="4.55" stroke="#619CFF"/>
<circle cx="129.6" cy="289.2" r="4.55" stroke="#619CFF"/>
<circle cx="129.6" cy="299.0" r="4.55" stroke="#619CFF"/>
<circle cx="128.7" cy="313.7" r="4.55" stroke="#619CFF"/>
<circle cx="130.6" cy="320.5" r="4.55" stroke="#619CFF"/>
<circle cx="135.0" cy="343.1" r="4.55" stroke="#619CFF"/>
<circle cx="132.1" cy="434.1" r="4.55" stroke="#619CFF"/>
<circle cx="146.7" cy="436.7" r="4.55" stroke="#619CFF"/>
<circle cx="129.2" cy="459.5" r="4.55" stroke="#619CFF"/>
<circle cx="136.5" cy="483.6" r="4.55" stroke="#619CFF"/>
<circle cx="138.4" cy="494.4" r="4.55" stroke="#619CFF"/>
<circle cx="137.5" cy="506.6" r="4.55" stroke="#619CFF"/>
<circle cx="139.9" cy="515.9" r="4.55" stroke="#619CFF"/>
<circle cx="131.6" cy="538.3" r="4.55" stroke="#619CFF"/>
<circle cx="181.9" cy="201.9" r="4.55" stroke="#619CFF"/>
<circle cx="183.8" cy="203.2" r="4.55" stroke="#619CFF"/>
<circle cx="194.7" cy="440.6" r="4.55" stroke="#619CFF"/>
<circle cx="179.2" cy="477.3" r="4.55" stroke="#619CFF"/>
<circle cx="186.9" cy="483.3" r="4.55" stroke="#619CFF"/>
<circle cx="193.3" cy="481.4" r="4.55" stroke="#619CFF"/>
<circle cx="197.4" cy="482.3" r="4.55" stroke="#619CFF"/>
<circle cx="128.4" cy="177.0" r="4.55" stroke="#619CFF"/>
<circle cx="130.1" cy="171.2" r="4.55" stroke="#619CFF"/>
<circle cx="129.8" cy="178.9" r="4.55" stroke="#619CFF"/>
<circle cx="128.2" cy="183.4" r="4.55" stroke="#619CFF"/>
<circle cx="129.4" cy="159.7" r="4.55" stroke="#619CFF"/>
<circle cx="128.1" cy="189.0" r="4.55" stroke="#619CFF"/>
<circle cx="129.1" cy="181.4" r="4.55" stroke="#619CFF"/>
<circle cx="130.1" cy="181.1" r="4.55" stroke="#619CFF"/>
<circle cx="130.2" cy="164.5" r="4.55" stroke="#619CFF"/>
<circle cx="129.9" cy="167.1" r="4.55" stroke="#619CFF"/>
<circle cx="137.5" cy="190.9" r="4.55" stroke="#619CFF"/>
<circle cx="138.6" cy="169.0" r="4.55" stroke="#619CFF"/>
<circle cx="136.1" cy="162.2" r="4.55" stroke="#619CFF"/>
<circle cx="138.9" cy="142.0" r="4.55" stroke="#619CFF"/>
<circle cx="139.1" cy="173.2" r="4.55" stroke="#619CFF"/>
<circle cx="136.3" cy="173.0" r="4.55" stroke="#619CFF"/>
<circle cx="128.8" cy="203.3" r="4.55" stroke="#619CFF"/>
<circle cx="129.5" cy="203.3" r="4.55" stroke="#619CFF"/>
<circle cx="128.9" cy="190.5" r="4.55" stroke="#619CFF"/>
<circle cx="128.8" cy="203.1" r="4.55" stroke="#619CFF"/>
<circle cx="437.6" cy="218.6" r="4.55" stroke="#F564E3"/>
<circle cx="550.6" cy="181.1" r="4.55" stroke="#F564E3"/>
<circle cx="504.9" cy="222.1" r="4.55" stroke="#F564E3"/>
<circle cx="427.0" cy="254.5" r="4.55" stroke="#F564E3"/>
<circle cx="461.0" cy="249.1" r="4.55" stroke="#F564E3"/>
<circle cx="493.6" cy="246.5" r="4.55" stroke="#F564E3"/>
<circle cx="434.5" cy="281.2" r="4.55" stroke="#F564E3"/>
<circle cx="474.6" cy="277.2" r="4.55" stroke="#F564E3"/>
<circle cx="475.6" cy="306.8" r="4.55" stroke="#F564E3"/>
<circle cx="491.3" cy="311.5" r="4.55" stroke="#F564E3"/>
<circle cx="503.9" cy="302.6" r="4.55" stroke="#F564E3"/>
<circle cx="540.0" cy="314.7" r="4.55" stroke="#F564E3"/>
<circle cx="617.0" cy="255.7" r="4.55" stroke="#F564E3"/>
<circle cx="627.7" cy="253.8" r="4.55" stroke="#F564E3"/>
<circle cx="598.2" cy="312.4" r="4.55" stroke="#F564E3"/>
<circle cx="677.4" cy="286.8" r="4.55" stroke="#F564E3"/>
<circle cx="295.2" cy="379.2" r="4.55" stroke="#F564E3"/>
<circle cx="340.2" cy="383.7" r="4.55" stroke="#F564E3"/>
<circle cx="364.6" cy="381.4" r="4.55" stroke="#F564E3"/>
<circle cx="446.9" cy="378.1" r="4.55" stroke="#F564E3"/>
<circle cx="457.9" cy="383.2" r="4.55" stroke="#F564E3"/>
<circle cx="310.9" cy="304.0" r="4.55" stroke="#F564E3"/>
<circle cx="263.5" cy="446.1" r="4.55" stroke="#F564E3"/>
<circle cx="309.2" cy="443.3" r="4.55" stroke="#F564E3"/>
<circle cx="338.3" cy="440.9" r="4.55" stroke="#F564E3"/>
<circle cx="388.5" cy="444.4" r="4.55" stroke="#F564E3"/>
<circle cx="394.8" cy="445.6" r="4.55" stroke="#F564E3"/>
<circle cx="327.3" cy="221.0" r="4.55" stroke="#F564E3"/>
<circle cx="357.7" cy="279.8" r="4.55" stroke="#F564E3"/>
<circle cx="763.5" cy="192.9" r="4.55" stroke="#F564E3"/>
<circle cx="552.9" cy="372.1" r="4.55" stroke="#F564E3"/>
<circle cx="214.6" cy="150.3" r="4.55" stroke="#F564E3"/>
<circle cx="224.3" cy="170.1" r="4.55" stroke="#F564E3"/>
<circle cx="296.0" cy="174.3" r="4.55" stroke="#F564E3"/>
<circle cx="242.0" cy="181.0" r="4.55" stroke="#F564E3"/>
<circle cx="231.0" cy="184.2" r="4.55" stroke="#F564E3"/>
<circle cx="251.4" cy="191.5" r="4.55" stroke="#F564E3"/>
<circle cx="278.9" cy="193.2" r="4.55" stroke="#F564E3"/>
<circle cx="223.1" cy="194.3" r="4.55" stroke="#F564E3"/>
<circle cx="277.7" cy="206.3" r="4.55" stroke="#F564E3"/>
<circle cx="275.7" cy="240.1" r="4.55" stroke="#F564E3"/>
<circle cx="268.8" cy="277.1" r="4.55" stroke="#F564E3"/>
<circle cx="264.6" cy="278.6" r="4.55" stroke="#F564E3"/>
<circle cx="217.0" cy="443.9" r="4.55" stroke="#F564E3"/>
<circle cx="215.1" cy="489.2" r="4.55" stroke="#F564E3"/>
<circle cx="247.9" cy="485.5" r="4.55" stroke="#F564E3"/>
<circle cx="247.9" cy="489.5" r="4.55" stroke="#F564E3"/>
<circle cx="257.1" cy="486.8" r="4.55" stroke="#F564E3"/>
<circle cx="292.2" cy="488.6" r="4.55" stroke="#F564E3"/>
<circle cx="292.5" cy="490.2" r="4.55" stroke="#F564E3"/>
<circle cx="233.1" cy="531.0" r="4.55" stroke="#F564E3"/>
<circle cx="204.1" cy="536.9" r="4.55" stroke="#F564E3"/>
<circle cx="131.2" cy="524.2" r="4.55" stroke="#F564E3"/>
<circle cx="193.4" cy="526.8" r="4.55" stroke="#F564E3"/>
<circle cx="180.4" cy="537.7" r="4.55" stroke="#F564E3"/>
<circle cx="147.9" cy="532.5" r="4.55" stroke="#F564E3"/>
<circle cx="153.1" cy="535.6" r="4.55" stroke="#F564E3"/>
<circle cx="156.8" cy="536.1" r="4.55" stroke="#F564E3"/>
<circle cx="160.9" cy="538.8" r="4.55" stroke="#F564E3"/>
<circle cx="132.3" cy="552.3" r="4.55" stroke="#F564E3"/>
<circle cx="140.1" cy="552.3" r="4.55" stroke="#F564E3"/>
<circle cx="143.2" cy="558.5" r="4.55" stroke="#F564E3"/>
<circle cx="153.6" cy="559.1" r="4.55" stroke="#F564E3"/>
<circle cx="162.0" cy="561.1" r="4.55" stroke="#F564E3"/>
<circle cx="165.4" cy="564.3" r="4.55" stroke="#F564E3"/>
<circle cx="158.3" cy="567.4" r="4.55" stroke="#F564E3"/>
<circle cx="148.4" cy="150.9" r="4.55" stroke="#F564E3"/>
<circle cx="174.1" cy="152.7" r="4.55" stroke="#F564E3"/>
<circle cx="157.6" cy="162.3" r="4.55" stroke="#F564E3"/>
<circle cx="160.6" cy="162.3" r="4.55" stroke="#F564E3"/>
<circle cx="190.3" cy="170.6" r="4.55" stroke="#F564E3"/>
<circle cx="147.5" cy="176.2" r="4.55" stroke="#F564E3"/>
<circle cx="156.7" cy="192.5" r="4.55" stroke="#F564E3"/>
<circle cx="128.7" cy="218.3" r="4.55" stroke="#F564E3"/>
<circle cx="128.7" cy="258.3" r="4.55" stroke="#F564E3"/>
<circle cx="128.7" cy="190.0" r="4.55" stroke="#F564E3"/>
<circle cx="129.6" cy="261.9" r="4.55" stroke="#F564E3"/>
<circle cx="135.5" cy="271.7" r="4.55" stroke="#F564E3"/>
<circle cx="129.6" cy="283.9" r="4.55" stroke="#F564E3"/>
<circle cx="129.6" cy="302.9" r="4.55" stroke="#F564E3"/>
<circle cx="131.1" cy="311.7" r="4.55" stroke="#F564E3"/>
<circle cx="129.6" cy="376.3" r="4.55" stroke="#F564E3"/>
<circle cx="131.6" cy="446.8" r="4.55" stroke="#F564E3"/>
<circle cx="131.6" cy="468.3" r="4.55" stroke="#F564E3"/>
<circle cx="136.5" cy="469.0" r="4.55" stroke="#F564E3"/>
<circle cx="140.4" cy="487.5" r="4.55" stroke="#F564E3"/>
<circle cx="143.3" cy="489.0" r="4.55" stroke="#F564E3"/>
<circle cx="190.1" cy="211.4" r="4.55" stroke="#F564E3"/>
<circle cx="193.8" cy="213.7" r="4.55" stroke="#F564E3"/>
<circle cx="128.9" cy="142.5" r="4.55" stroke="#F564E3"/>
<circle cx="129.3" cy="144.3" r="4.55" stroke="#F564E3"/>
<circle cx="129.0" cy="146.1" r="4.55" stroke="#F564E3"/>
<circle cx="129.3" cy="147.9" r="4.55" stroke="#F564E3"/>
<circle cx="129.4" cy="149.7" r="4.55" stroke="#F564E3"/>
<circle cx="128.7" cy="151.5" r="4.55" stroke="#F564E3"/>
<circle cx="128.6" cy="153.3" r="4.55" stroke="#F564E3"/>
<circle cx="129.6" cy="155.1" r="4.55" stroke="#F564E3"/>
<circle cx="128.9" cy="156.9" r="4.55" stroke="#F564E3"/>
<circle cx="128.9" cy="158.7" r="4.55" stroke="#F564E3"/>
<circle cx="129.8" cy="160.5" r="4.55" stroke="#F564E3"/>
<circle cx="129.2" cy="162.3" r="4.55" stroke="#F564E3"/>
<circle cx="129.6" cy="164.1" r="4.55" stroke="#F564E3"/>
<circle cx="129.2" cy="165.9" r="4.55" stroke="#F564E3"/>
<circle cx="129.4" cy="167.7" r="4.55" stroke="#F564E3"/>
<circle cx="137.6" cy="159.8" r="4.55" stroke="#F564E3"/>
<circle cx="139.0" cy="156.3" r="4.55" stroke="#F564E3"/>
<circle cx="129.0" cy="146.7" r="4.55" stroke="#F564E3"/>
<circle cx="128.4" cy="145.1" r="4.55" stroke="#F564E3"/>
<circle cx="129.6" cy="143.0" r="4.55" stroke="#F564E3"/>
<circle cx="128.8" cy="146.9" r="4.55" stroke="#F564E3"/>
<circle cx="128.8" cy="142.0" r="4.55" stroke="#F564E3"/>
<circle cx="129.1" cy="146.1" r="4.55" stroke="#F564E3"/>
<circle cx="128.6" cy="143.1" r="4.55" stroke="#F564E3"/>
<circle cx="128.9" cy="147.2" r="4.55" stroke="#F564E3"/>
<circle cx="129.1" cy="147.3" r="4.55" stroke="#F564E3"/>
<circle cx="128.7" cy="143.2" r="4.55" stroke="#F564E3"/>
<circle cx="128.5" cy="188.1" r="4.55" stroke="#F564E3"/>
<circle cx="130.1" cy="204.7" r="4.55" stroke="#F564E3"/>
<circle cx="130.3" cy="176.3" r="4.55" stroke="#619CFF"/>
<circle cx="128.5" cy="172.1" r="4.55" stroke="#619CFF"/>
<circle cx="130.0" cy="170.2" r="4.55" stroke="#619CFF"/>
<circle cx="129.2" cy="161.6" r="4.55" stroke="#00BA38"/>
<circle cx="128.8" cy="160.2" r="4.55" stroke="#00BA38"/>
<circle cx="128.2" cy="168.5" r="4.55" stroke="#B79F00"/>
<circle cx="128.7" cy="173.6" r="4.55" stroke="#B79F00"/>
<circle cx="128.1" cy="175.8" r="4.55" stroke="#00BFC4"/>
<circle cx="129.7" cy="176.2" r="4.55" stroke="#00BFC4"/>
<circle cx="130.2" cy="175.7" r="4.55" stroke="#F8766D"/>
</g>
<rect x="98.2" y="15.4" width="696.3" height="577.4" fill="none" stroke="#333333" stroke-width="1.4"/>
<line x1="90" y1="27.4" x2="98.2" y2="27.4" stroke="#333333" stroke-width="2.7"/>
<line x1="90" y1="142.65" x2="98.2" y2="142.65" stroke="#333333" stroke-width="2.7"/>
<line x1="90" y1="257.9" x2="98.2" y2="257.9" stroke="#333333" stroke-width="2.7"/>
<line x1="90" y1="373.15" x2="98.2" y2="373.15" stroke="#333333" stroke-width="2.7"/>
<line x1="90" y1="488.4" x2="98.2" y2="488.4" stroke="#333333" stroke-width="2.7"/>
<line x1="129.3" y1="592.8" x2="129.3" y2="600.6" stroke="#333333" stroke-width="2.7"/>
<line x1="268.63750000000005" y1="592.8" x2="268.63750000000005" y2="600.6" stroke="#333333" stroke-width="2.7"/>
<line x1="407.975" y1="592.8" x2="407.975" y2="600.6" stroke="#333333" stroke-width="2.7"/>
<line x1="547.3125" y1="592.8" x2="547.3125" y2="600.6" stroke="#333333" stroke-width="2.7"/>
<line x1="686.6500000000001" y1="592.8" x2="686.6500000000001" y2="600.6" stroke="#333333" stroke-width="2.7"/>
<g font-family='"Liberation Sans", sans-serif' font-size="23.47px" fill="#4D4D4D" stroke="#fff" stroke-width="0.2">
<text x="84" y="35.4" text-anchor="end">25</text>
<text x="84" y="150.7" text-anchor="end">0</text>
<text x="84" y="265.9" text-anchor="end">-25</text>
<text x="84" y="381.1" text-anchor="end">-50</text>
<text x="84" y="496.4" text-anchor="end">-75</text>
<text x="129.3" y="623.6" text-anchor="middle">0</text>
<text x="268.63750000000005" y="623.6" text-anchor="middle">500</text>
<text x="407.975" y="623.6" text-anchor="middle">1000</text>
<text x="547.3125" y="623.6" text-anchor="middle">1500</text>
<text x="686.6500000000001" y="623.6" text-anchor="middle">2000</text>
</g>
<g font-family='"Liberation Sans", sans-serif' font-size="29.33px" fill="#000" stroke="#fff" stroke-width="0.2">
<text x="446.8" y="658.1" text-anchor="middle" textLength="270.5" lengthAdjust="spacingAndGlyphs">Drug Conc. (ng/mL)</text>
<text transform="translate(35.8,303) rotate(-90)" x="0" y="0" text-anchor="middle" textLength="493.7" lengthAdjust="spacingAndGlyphs">Response (% Change from Baseline)</text>
<text x="838.6" y="168.9" textLength="206.4" lengthAdjust="spacingAndGlyphs">Dose and Food</text>
</g>
<g font-family='"Liberation Sans", sans-serif' font-size="23.47px" fill="#000" stroke="#fff" stroke-width="0.2">
<circle cx="862.2" cy="210.0" r="4.55" fill="none" stroke="#F8766D" stroke-width="1.7" stroke-opacity="0.55"/>
<text x="899.2" y="218.9" textLength="210.8" lengthAdjust="spacingAndGlyphs">10 mg Fasted (n=6)</text>
<circle cx="862.2" cy="256.1" r="4.55" fill="none" stroke="#B79F00" stroke-width="1.7" stroke-opacity="0.55"/>
<text x="899.2" y="265.0" textLength="210.8" lengthAdjust="spacingAndGlyphs">50 mg Fasted (n=6)</text>
<circle cx="862.2" cy="302.2" r="4.55" fill="none" stroke="#00BA38" stroke-width="1.7" stroke-opacity="0.55"/>
<text x="899.2" y="311.1" textLength="224.2" lengthAdjust="spacingAndGlyphs">100 mg Fasted (n=6)</text>
<circle cx="862.2" cy="348.4" r="4.55" fill="none" stroke="#00BFC4" stroke-width="1.7" stroke-opacity="0.55"/>
<text x="899.2" y="357.3" textLength="192.1" lengthAdjust="spacingAndGlyphs">100 mg Fed (n=6)</text>
<circle cx="862.2" cy="394.5" r="4.55" fill="none" stroke="#619CFF" stroke-width="1.7" stroke-opacity="0.55"/>
<text x="899.2" y="403.4" textLength="224.2" lengthAdjust="spacingAndGlyphs">200 mg Fasted (n=6)</text>
<circle cx="862.2" cy="440.6" r="4.55" fill="none" stroke="#F564E3" stroke-width="1.7" stroke-opacity="0.55"/>
<text x="899.2" y="449.5" textLength="224.2" lengthAdjust="spacingAndGlyphs">400 mg Fasted (n=6)</text>
<text x="789" y="696.6" text-anchor="end" textLength="259.5" lengthAdjust="spacingAndGlyphs">Points are observations</text>
<text x="789.8" y="721.5" text-anchor="end" textLength="751.5" lengthAdjust="spacingAndGlyphs">Reference line indicates the null response (no change from baseline)</text>
<text x="794.5" y="746.6" text-anchor="end" textLength="327.7" lengthAdjust="spacingAndGlyphs">LOESS fit overlaid with 95% CI</text>
</g>
</svg>
</body></html>
